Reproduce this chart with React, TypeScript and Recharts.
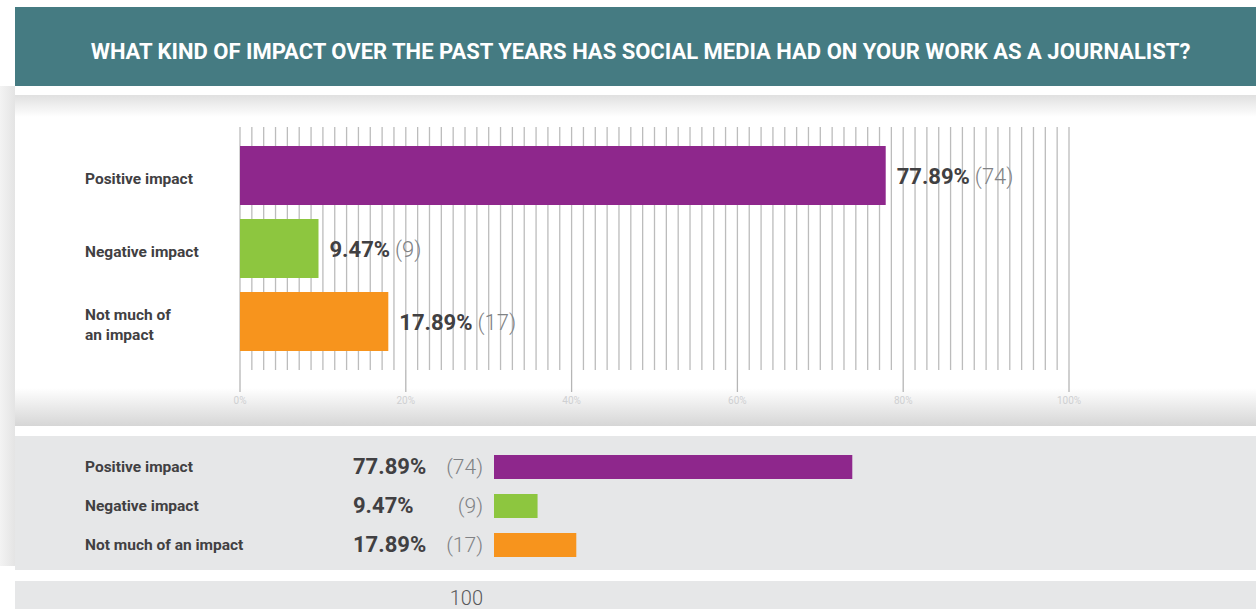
import { BarChart, Bar, XAxis, YAxis, CartesianGrid, Cell, LabelList } from 'recharts';

const categories = ['Positive impact', 'Negative impact', 'Not much of an impact'];
const percents = [77.89, 9.47, 17.89];
const counts = [74, 9, 17];
const total = 100;
const colors = ['#8e278c', '#8dc63f', '#f7941d'];
const chartTickLines = [['Positive impact'], ['Negative impact'], ['Not much of', 'an impact']];
const axisTicks = [0, 20, 40, 60, 80, 100];

const title = 'WHAT KIND OF IMPACT OVER THE PAST YEARS HAS SOCIAL MEDIA HAD ON YOUR WORK AS A JOURNALIST?';

const data = categories.map((name, i) => ({ name, value: percents[i], count: counts[i] }));

// thin grid: 14 lines for every 20%
const minorGrid = Array.from({ length: 71 }, (_, i) => (i * 100) / 70);

const FONT = 'Roboto, "Noto Sans", sans-serif';
const DARK = '#414042';
const LIGHT = '#808285';

const ChartTick = ({ y, payload }: any) => {
  const lines = chartTickLines[payload.index] || [payload.value];
  const start = y + 3 - ((lines.length - 1) * 20) / 2;
  return (
    <text x={ 85 } y={ start } fill={ DARK } fontFamily={ FONT } fontSize={ 15.5 } fontWeight={ 700 } textAnchor="start" dominantBaseline="central">
      { lines.map((l: string, i: number) => (
        <tspan key={ i } x={ 85 } y={ start + i * 20 }>{ l }</tspan>
      )) }
    </text>
  );
};

const ValueLabel = ({ x, y, width, height, index }: any) => (
  <text x={ x + width + 11 } y={ y + height / 2 } dominantBaseline="central" fontFamily={ FONT } fontSize={ 22 }>
    <tspan fontWeight={ 700 } fill={ DARK }>{ percents[index].toFixed(2) }%</tspan>
    <tspan dx={ 5 } fontWeight={ 300 } fill={ LIGHT }>({ counts[index] })</tspan>
  </text>
);

const TableTick = ({ y, payload }: any) => {
  const i = payload.index;
  return (
    <g fontFamily={ FONT }>
      <text x={ 85 } y={ y } fill={ DARK } fontSize={ 15.5 } fontWeight={ 700 } dominantBaseline="central">{ categories[i] }</text>
      <text x={ 353 } y={ y } fill={ DARK } fontSize={ 22 } fontWeight={ 700 } dominantBaseline="central">{ percents[i].toFixed(2) }%</text>
      <text x={ 483 } y={ y } fill={ LIGHT } fontSize={ 21 } fontWeight={ 300 } textAnchor="end" dominantBaseline="central">({ counts[i] })</text>
    </g>
  );
};

const App = () => (
  <div style={ { position: 'fixed', left: 0, top: 0, width: 1256, height: 609, background: '#fff', overflow: 'hidden' } }>
    {/* left shadow strip */}
    <div style={ { position: 'absolute', left: 0, top: 86, width: 15, height: 480, background: 'linear-gradient(to right, #f3f3f3, #e4e4e4)' } } />
    {/* header */}
    <div
      style={ {
        position: 'absolute', left: 15, top: 7, width: 1241, height: 79, background: '#457b82',
        display: 'flex', alignItems: 'center', justifyContent: 'center',
      } }
    >
      <div style={ { color: '#fff', fontFamily: FONT, fontSize: 22, fontWeight: 700, whiteSpace: 'nowrap', marginLeft: 10, marginTop: 9 } }>
        { title }
      </div>
    </div>
    {/* shadows round the chart panel */}
    <div style={ { position: 'absolute', left: 15, top: 95, width: 1241, height: 22, background: 'linear-gradient(#e0e0e0, rgba(255,255,255,0))' } } />
    <div style={ { position: 'absolute', left: 15, top: 388, width: 1241, height: 38, background: 'linear-gradient(rgba(255,255,255,0), #d6d6d6)' } } />

    <div style={ { position: 'absolute', left: 0, top: 0 } }>
      <BarChart width={ 1256 } height={ 420 } data={ data } layout="vertical" margin={ { top: 127, right: 187, bottom: 0, left: 0 } }>
        <CartesianGrid horizontal={ false } verticalValues={ minorGrid } stroke="#bcbcbc" strokeWidth={ 1.3 } />
        <XAxis
          type="number"
          domain={ [0, 100] }
          ticks={ axisTicks }
          tickFormatter={ (v: number) => `${v}%` }
          axisLine={ false }
          tickSize={ 22 }
          tickMargin={ 5 }
          tickLine={ { stroke: '#b5b5b5', strokeWidth: 1.3 } }
          height={ 50 }
          tick={ { fill: '#cfd0d2', fontSize: 10, fontFamily: FONT } }
          interval={ 0 }
        />
        <YAxis type="category" dataKey="name" width={ 240 } axisLine={ false } tickLine={ false } tick={ <ChartTick /> } padding={ { top: 12, bottom: 12 } } />
        <Bar dataKey="value" barSize={ 59 } isAnimationActive={ false }>
          { data.map((d, i) => <Cell key={ d.name } fill={ colors[i] } />) }
          <LabelList dataKey="value" content={ <ValueLabel /> } />
        </Bar>
      </BarChart>
    </div>

    {/* summary table */}
    <div style={ { position: 'absolute', left: 15, top: 436, width: 1241, height: 134, background: '#e6e7e8' } } />
    <div style={ { position: 'absolute', left: 0, top: 436 } }>
      <BarChart width={ 954 } height={ 134 } data={ data } layout="vertical" margin={ { top: 11, right: 0, bottom: 6, left: 0 } }>
        <XAxis type="number" domain={ [0, 100] } hide />
        <YAxis type="category" dataKey="name" width={ 494 } axisLine={ false } tickLine={ false } tick={ <TableTick /> } />
        <Bar dataKey="value" barSize={ 24 } isAnimationActive={ false }>
          { data.map((d, i) => <Cell key={ d.name } fill={ colors[i] } />) }
        </Bar>
      </BarChart>
    </div>

    {/* total row */}
    <div style={ { position: 'absolute', left: 15, top: 581, width: 1241, height: 28, background: '#e6e7e8' } } />
    <div style={ { position: 'absolute', left: 0, top: 587, width: 483, textAlign: 'right', fontFamily: FONT, fontSize: 20, fontWeight: 300, color: '#58595b', lineHeight: '22px' } }>
      { total }
    </div>
  </div>
);

export default App;
